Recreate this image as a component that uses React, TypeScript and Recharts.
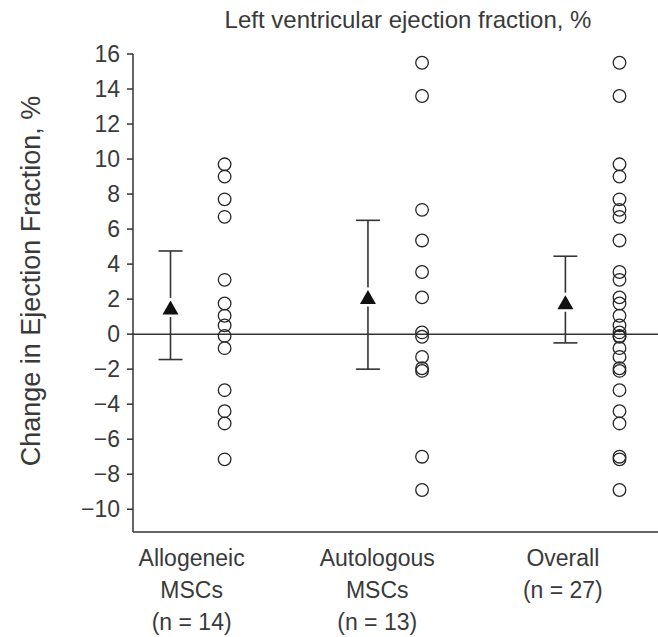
import React from 'react';
import { ScatterChart, Scatter, XAxis, YAxis, ReferenceLine, ErrorBar } from 'recharts';

// change in LVEF (%) per trial
const ALLOGENEIC = [9.7, 9.0, 7.7, 6.7, 3.1, 1.75, 1.05, 0.5, -0.1, -0.8, -3.2, -4.4, -5.1, -7.15];
const AUTOLOGOUS = [15.5, 13.6, 7.1, 5.35, 3.55, 2.1, 0.1, -0.15, -1.3, -1.95, -2.1, -7.0, -8.9];
const OVERALL = [...ALLOGENEIC, ...AUTOLOGOUS];

// pooled estimate with 95% CI
const MEANS = [1.5, 2.1, 1.8];
const CI_LOW = [-1.45, -2.0, -0.5];
const CI_HIGH = [4.75, 6.5, 4.45];

const GROUP_LABELS = [
  ['Allogeneic', 'MSCs', '(n = 14)'],
  ['Autologous', 'MSCs', '(n = 13)'],
  ['Overall', '(n = 27)'],
];
const LABEL_TICKS = [0.97, 1.91, 2.85];
const Y_TICKS = [-10, -8, -6, -4, -2, 0, 2, 4, 6, 8, 10, 12, 14, 16];

const GROUP_X = [1, 2, 3];
const OFFSET = 0.137;

const FONT = '"Liberation Sans", Arial, Helvetica, sans-serif';
const INK = '#333';
const TEXT = '#3a3a3a';

const dots = (vals: number[], g: number) => vals.map((v) => ({ x: GROUP_X[g] + OFFSET, y: v }));
const dotData = [dots(ALLOGENEIC, 0), dots(AUTOLOGOUS, 1), dots(OVERALL, 2)];

const meanData = MEANS.map((m, i) => ({
  x: GROUP_X[i] - OFFSET,
  y: m,
  err: [m - CI_LOW[i], CI_HIGH[i] - m],
}));

const OpenCircle = (props: any) => (
  <circle cx={props.cx} cy={props.cy} r={6.3} fill="none" stroke="#262626" strokeWidth={1.3} />
);

const Triangle = (props: any) => {
  const { cx, cy } = props;
  return (
    <path
      d={`M${cx},${cy - 7.5} L${cx + 8},${cy + 6.5} L${cx - 8},${cy + 6.5} Z`}
      fill="#111"
      stroke="#fff"
      strokeWidth={5}
      strokeLinejoin="round"
      paintOrder="stroke"
    />
  );
};

const Nothing = () => null;

const GroupTick = (props: any) => {
  const { x, y, index } = props;
  const lines = GROUP_LABELS[index] || [];
  return (
    <text x={x} y={y} textAnchor="middle" fill={TEXT} fontSize={23} fontFamily={FONT}>
      {lines.map((l, i) => (
        <tspan key={i} x={x} dy={i === 0 ? 26 : 32}>
          {l}
        </tspan>
      ))}
    </text>
  );
};

const YTitle = () => (
  <text
    transform="translate(31,281) rotate(-90)"
    textAnchor="middle"
    dominantBaseline="central"
    fill={TEXT}
    fontSize={27}
    fontFamily={FONT}
  >
    Change in Ejection Fraction, %
  </text>
);

export default function App() {
  return (
    <div style={{ position: 'absolute', left: 0, top: 0, width: 658, height: 637, background: '#fff' }}>
      <div
        style={{
          position: 'absolute',
          left: 158,
          top: 6,
          width: 500,
          textAlign: 'center',
          fontFamily: FONT,
          fontSize: 24,
          color: TEXT,
        }}
      >
        Left ventricular ejection fraction, %
      </div>
      <ScatterChart width={658} height={637} margin={{ top: 54, right: 0, bottom: 0, left: 0 }}>
        <XAxis
          type="number"
          dataKey="x"
          domain={[0.673, 3.332]}
          ticks={LABEL_TICKS}
          interval={0}
          tickLine={false}
          axisLine={{ stroke: INK, strokeWidth: 1.5 }}
          tick={<GroupTick />}
          height={105}
          allowDataOverflow
        />
        <YAxis
          type="number"
          dataKey="y"
          domain={[-11.3, 16]}
          ticks={Y_TICKS}
          interval={0}
          width={133}
          tickSize={6}
          tickMargin={7}
          axisLine={{ stroke: INK, strokeWidth: 1.5 }}
          tickLine={{ stroke: INK, strokeWidth: 1.5 }}
          tick={{ fill: TEXT, fontSize: 23, fontFamily: FONT }}
          tickFormatter={(v: number) => (v < 0 ? `\u2212${Math.abs(v)}` : `${v}`)}
          label={<YTitle />}
          allowDataOverflow
        />
        <ReferenceLine y={0} stroke={INK} strokeWidth={1.5} />
        {dotData.map((d, i) => (
          <Scatter key={i} data={d} shape={<OpenCircle />} isAnimationActive={false} />
        ))}
        <Scatter data={meanData} shape={<Nothing />} isAnimationActive={false}>
          <ErrorBar dataKey="err" direction="y" width={12} stroke={INK} strokeWidth={1.6} />
        </Scatter>
        <Scatter data={meanData} shape={<Triangle />} isAnimationActive={false} />
      </ScatterChart>
    </div>
  );
}
